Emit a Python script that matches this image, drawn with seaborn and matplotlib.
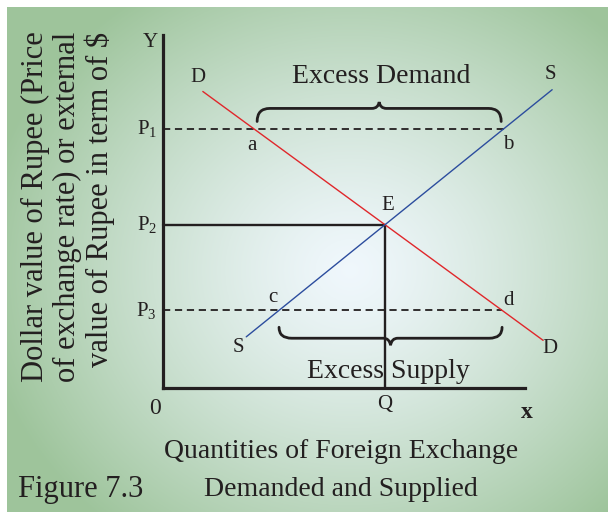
import matplotlib
matplotlib.use("Agg")
import matplotlib.pyplot as plt
import numpy as np
import seaborn as sns
from matplotlib.path import Path
from matplotlib.patches import PathPatch

# demand (D) and supply (S) schedules: end points as (quantity, price)
demand_q = [1.1, 10.5]
demand_p = [8.4, 1.35]
supply_q = [2.3, 10.75]
supply_p = [1.45, 8.45]

# price above and below equilibrium
price_high = 7.35
price_low = 2.2

TEXT = "#231f20"
RED = "#e0272b"
BLUE = "#2c4d9e"


def q_at(qs, ps, p):
    """quantity on a straight schedule at price p"""
    return qs[0] + (p - ps[0]) * (qs[1] - qs[0]) / (ps[1] - ps[0])


def equilibrium():
    sd = (demand_p[1] - demand_p[0]) / (demand_q[1] - demand_q[0])
    ss = (supply_p[1] - supply_p[0]) / (supply_q[1] - supply_q[0])
    q = (supply_p[0] - ss * supply_q[0] - demand_p[0] + sd * demand_q[0]) / (sd - ss)
    return q, demand_p[0] + sd * (q - demand_q[0])


def brace(ax, x0, x1, y_end, y_bar, y_tip, r=0.35, w=0.2):
    xm = (x0 + x1) / 2
    verts = [(x0, y_end), (x0, y_bar), (x0 + r, y_bar),
             (xm - w, y_bar),
             (xm - w * 0.15, y_bar), (xm, y_tip),
             (xm + w * 0.15, y_bar), (xm + w, y_bar),
             (x1 - r, y_bar),
             (x1, y_bar), (x1, y_end)]
    codes = [Path.MOVETO, Path.CURVE3, Path.CURVE3, Path.LINETO,
             Path.CURVE3, Path.CURVE3, Path.CURVE3, Path.CURVE3,
             Path.LINETO, Path.CURVE3, Path.CURVE3]
    ax.add_patch(PathPatch(Path(verts, codes), fill=False, lw=2.0,
                           edgecolor=TEXT, capstyle="round", clip_on=False))


sns.set_theme(style="white")
plt.rcParams["font.family"] = ["Liberation Serif", "DejaVu Serif"]
plt.rcParams["mathtext.fontset"] = "custom"
plt.rcParams["mathtext.rm"] = "Liberation Serif"
plt.rcParams["mathtext.it"] = "Liberation Serif"

fig = plt.figure(figsize=(6.08, 5.12), dpi=100)
fig.patch.set_facecolor("white")

# green radial backdrop
bg = fig.add_axes([7 / 608, 0, 601 / 608, 505 / 512])
h, w = 300, 360
yy, xx = np.mgrid[0:h, 0:w]
cx, cy = 0.57 * w, 0.52 * h
t = np.sqrt(((xx - cx) / (0.62 * w)) ** 2 + ((yy - cy) / (0.66 * h)) ** 2)
t = np.clip(t, 0, 1) ** 1.3
inner = np.array([0.94, 0.97, 0.99])
outer = np.array([0.62, 0.77, 0.61])
img = inner[None, None, :] * (1 - t[..., None]) + outer[None, None, :] * t[..., None]
bg.imshow(img, aspect="auto", extent=[0, 1, 0, 1], origin="upper")
bg.set_axis_off()

ax = fig.add_axes([163 / 608, 124 / 512, 362 / 608, 353 / 512])
ax.set_facecolor("none")
ax.set_xlim(0, 10)
ax.set_ylim(0, 10)
for side in ["top", "right"]:
    ax.spines[side].set_visible(False)
for side in ["left", "bottom"]:
    ax.spines[side].set_linewidth(2.3)
    ax.spines[side].set_color(TEXT)
ax.set_xticks([])
ax.set_yticks([])

eq_q, eq_p = equilibrium()
a_x = q_at(demand_q, demand_p, price_high)
b_x = q_at(supply_q, supply_p, price_high)
c_x = q_at(supply_q, supply_p, price_low)
d_x = q_at(demand_q, demand_p, price_low)

# guide lines
ax.plot([0, b_x], [price_high, price_high], ls=(0, (4, 2.6)), lw=1.3, color=TEXT)
ax.plot([0, d_x], [price_low, price_low], ls=(0, (4, 2.6)), lw=1.3, color=TEXT)
ax.plot([0, eq_q], [eq_p, eq_p], lw=1.7, color=TEXT)
ax.plot([eq_q, eq_q], [0, eq_p], lw=1.7, color=TEXT)

# schedules
sns.lineplot(x=demand_q, y=demand_p, ax=ax, color=RED, lw=1.0)
sns.lineplot(x=supply_q, y=supply_p, ax=ax, color=BLUE, lw=1.0)
for line in ax.lines:
    line.set_clip_on(False)

brace(ax, a_x + 0.1, b_x - 0.08, price_high + 0.2, price_high + 0.57, price_high + 0.75)
brace(ax, c_x, d_x, price_low - 0.48, price_low - 0.79, price_low - 0.99)

small = dict(fontsize=15, color=TEXT, ha="center", va="center",
             textcoords="offset pixels", annotation_clip=False)
ax.annotate("a", (a_x, price_high), xytext=(-2, -17), **small)
ax.annotate("b", (b_x, price_high), xytext=(4, -16), **small)
ax.annotate("c", (c_x, price_low), xytext=(-6, 13), **small)
ax.annotate("d", (d_x, price_low), xytext=(6, 10), **small)
ax.annotate("E", (eq_q, eq_p), xytext=(3, 19), **small)
ax.annotate("D", (demand_q[0], demand_p[0]), xytext=(-5, 14), **small)
ax.annotate("D", (demand_q[1], demand_p[1]), xytext=(7, -8), **small)
ax.annotate("S", (supply_q[0], supply_p[0]), xytext=(-8, -11), **small)
ax.annotate("S", (supply_q[1], supply_p[1]), xytext=(-2, 15), **small)

big = dict(fontsize=20, color=TEXT, ha="center", va="center",
           textcoords="offset pixels", annotation_clip=False)
ax.annotate("Excess Demand", ((a_x + b_x) / 2, price_high + 0.75), xytext=(2, 26), **big)
ax.annotate("Excess Supply", ((c_x + d_x) / 2, price_low - 0.99), xytext=(-2, -26), **big)

for p, lab in zip([price_high, eq_p, price_low], ["P$_1$", "P$_2$", "P$_3$"]):
    ax.text(-0.17, p, lab, fontsize=15, color=TEXT, ha="right", va="center")

ax.text(-0.36, 9.8, "Y", fontsize=15, color=TEXT, ha="center", va="center")
ax.text(-0.22, -0.57, "0", fontsize=17, color=TEXT, ha="center", va="center")
ax.text(eq_q, -0.47, "Q", fontsize=15, color=TEXT, ha="center", va="center")
ax.text(10.06, -0.68, "x", fontsize=17, fontweight="bold", color=TEXT,
        ha="center", va="center")

fig.text(341 / 608, 1 - 452 / 512, "Quantities of Foreign Exchange", fontsize=20,
         color=TEXT, ha="center", va="center")
fig.text(341 / 608, 1 - 490 / 512, "Demanded and Supplied", fontsize=20,
         color=TEXT, ha="center", va="center")
fig.text(81 / 608, 1 - 490 / 512, "Figure 7.3", fontsize=22, color=TEXT,
         ha="center", va="center")
fig.text(68 / 608, 1 - 207 / 512,
         "Dollar value of Rupee (Price\nof exchange rate) or external\nvalue of Rupee in term of $",
         fontsize=22, color=TEXT, rotation=90, ha="center", va="center",
         multialignment="right", linespacing=1.1)

fig.savefig("out.png", dpi=100)
